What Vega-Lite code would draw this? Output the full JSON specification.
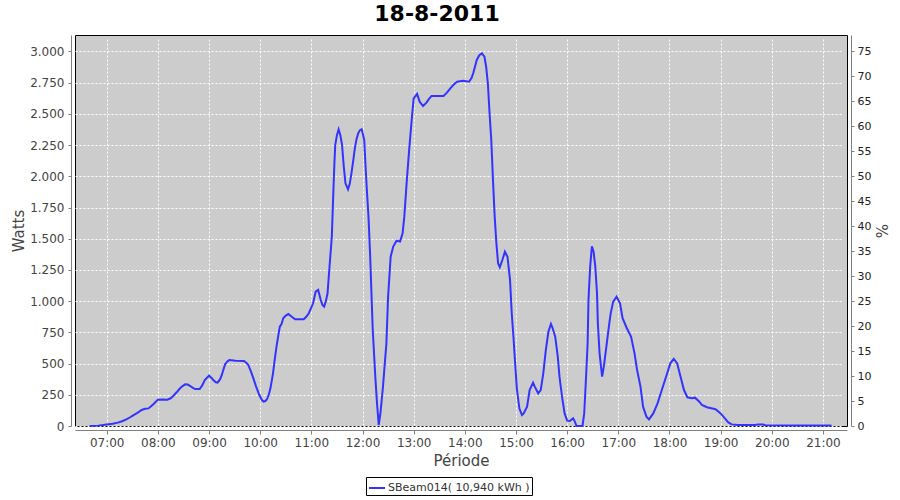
{
  "$schema": "https://vega.github.io/schema/vega-lite/v6.json",
  "autosize": {"type": "none"},
  "padding": {"left": 75, "top": 35, "right": 53, "bottom": 74},
  "width": 772,
  "height": 391,
  "title": {"text": "18-8-2011", "font": "DejaVu Sans", "fontSize": 22, "fontWeight": "bold", "color": "black", "anchor": "middle", "offset": 9, "dx": -24},
  "config": {
    "view": {"fill": "#cccccc", "stroke": "black", "strokeWidth": 1},
    "axis": {
      "labelFont": "DejaVu Sans", "labelFontSize": 12, "labelColor": "#444444",
      "titleFont": "DejaVu Sans", "titleFontSize": 15, "titleFontWeight": "normal", "titleColor": "#444444",
      "domainColor": "#808080", "tickColor": "#808080", "offset": 4,
      "gridColor": "white", "gridDash": [2, 2], "gridOpacity": 1, "gridWidth": 1
    },
    "legend": {"labelFont": "DejaVu Sans", "labelFontSize": 11, "labelColor": "#333333"}
  },
  "data": {"values": [
    {"t": "2011-08-18 06:40", "w": 0},
    {"t": "2011-08-18 06:50", "w": 3},
    {"t": "2011-08-18 07:00", "w": 12},
    {"t": "2011-08-18 07:07", "w": 18},
    {"t": "2011-08-18 07:13", "w": 27},
    {"t": "2011-08-18 07:18", "w": 38},
    {"t": "2011-08-18 07:23", "w": 53},
    {"t": "2011-08-18 07:27", "w": 68},
    {"t": "2011-08-18 07:31", "w": 85},
    {"t": "2011-08-18 07:36", "w": 105},
    {"t": "2011-08-18 07:41", "w": 128},
    {"t": "2011-08-18 07:45", "w": 138},
    {"t": "2011-08-18 07:49", "w": 141},
    {"t": "2011-08-18 07:52", "w": 158},
    {"t": "2011-08-18 07:55", "w": 176},
    {"t": "2011-08-18 08:00", "w": 211},
    {"t": "2011-08-18 08:05", "w": 213},
    {"t": "2011-08-18 08:11", "w": 211},
    {"t": "2011-08-18 08:15", "w": 222},
    {"t": "2011-08-18 08:18", "w": 240},
    {"t": "2011-08-18 08:22", "w": 270},
    {"t": "2011-08-18 08:26", "w": 302},
    {"t": "2011-08-18 08:29", "w": 320},
    {"t": "2011-08-18 08:32", "w": 334},
    {"t": "2011-08-18 08:35", "w": 332},
    {"t": "2011-08-18 08:38", "w": 320},
    {"t": "2011-08-18 08:41", "w": 305},
    {"t": "2011-08-18 08:44", "w": 296},
    {"t": "2011-08-18 08:49", "w": 296},
    {"t": "2011-08-18 08:52", "w": 325},
    {"t": "2011-08-18 08:55", "w": 368},
    {"t": "2011-08-18 09:00", "w": 403},
    {"t": "2011-08-18 09:03", "w": 385},
    {"t": "2011-08-18 09:05", "w": 368},
    {"t": "2011-08-18 09:08", "w": 350},
    {"t": "2011-08-18 09:10", "w": 347},
    {"t": "2011-08-18 09:13", "w": 375},
    {"t": "2011-08-18 09:15", "w": 409},
    {"t": "2011-08-18 09:17", "w": 455},
    {"t": "2011-08-18 09:19", "w": 497},
    {"t": "2011-08-18 09:22", "w": 520},
    {"t": "2011-08-18 09:24", "w": 529},
    {"t": "2011-08-18 09:31", "w": 523},
    {"t": "2011-08-18 09:41", "w": 521},
    {"t": "2011-08-18 09:44", "w": 505},
    {"t": "2011-08-18 09:46", "w": 489},
    {"t": "2011-08-18 09:49", "w": 440},
    {"t": "2011-08-18 09:52", "w": 382},
    {"t": "2011-08-18 09:55", "w": 320},
    {"t": "2011-08-18 09:59", "w": 248},
    {"t": "2011-08-18 10:02", "w": 208},
    {"t": "2011-08-18 10:04", "w": 195},
    {"t": "2011-08-18 10:06", "w": 200},
    {"t": "2011-08-18 10:08", "w": 214},
    {"t": "2011-08-18 10:10", "w": 250},
    {"t": "2011-08-18 10:12", "w": 302},
    {"t": "2011-08-18 10:15", "w": 420},
    {"t": "2011-08-18 10:17", "w": 529},
    {"t": "2011-08-18 10:19", "w": 630},
    {"t": "2011-08-18 10:21", "w": 715},
    {"t": "2011-08-18 10:23", "w": 796},
    {"t": "2011-08-18 10:25", "w": 817},
    {"t": "2011-08-18 10:27", "w": 863},
    {"t": "2011-08-18 10:30", "w": 885},
    {"t": "2011-08-18 10:33", "w": 897},
    {"t": "2011-08-18 10:37", "w": 875},
    {"t": "2011-08-18 10:41", "w": 855},
    {"t": "2011-08-18 10:51", "w": 855},
    {"t": "2011-08-18 10:54", "w": 875},
    {"t": "2011-08-18 10:57", "w": 903},
    {"t": "2011-08-18 11:00", "w": 950},
    {"t": "2011-08-18 11:02", "w": 983},
    {"t": "2011-08-18 11:05", "w": 1076},
    {"t": "2011-08-18 11:08", "w": 1090},
    {"t": "2011-08-18 11:11", "w": 1009},
    {"t": "2011-08-18 11:13", "w": 970},
    {"t": "2011-08-18 11:15", "w": 956},
    {"t": "2011-08-18 11:17", "w": 1000},
    {"t": "2011-08-18 11:19", "w": 1063},
    {"t": "2011-08-18 11:21", "w": 1250},
    {"t": "2011-08-18 11:24", "w": 1517},
    {"t": "2011-08-18 11:26", "w": 1917},
    {"t": "2011-08-18 11:27", "w": 2099},
    {"t": "2011-08-18 11:28", "w": 2251},
    {"t": "2011-08-18 11:30", "w": 2330},
    {"t": "2011-08-18 11:32", "w": 2377},
    {"t": "2011-08-18 11:34", "w": 2330},
    {"t": "2011-08-18 11:36", "w": 2251},
    {"t": "2011-08-18 11:38", "w": 2080},
    {"t": "2011-08-18 11:40", "w": 1944},
    {"t": "2011-08-18 11:43", "w": 1896},
    {"t": "2011-08-18 11:45", "w": 1940},
    {"t": "2011-08-18 11:47", "w": 2024},
    {"t": "2011-08-18 11:49", "w": 2120},
    {"t": "2011-08-18 11:51", "w": 2224},
    {"t": "2011-08-18 11:53", "w": 2300},
    {"t": "2011-08-18 11:55", "w": 2345},
    {"t": "2011-08-18 11:57", "w": 2370},
    {"t": "2011-08-18 11:59", "w": 2377},
    {"t": "2011-08-18 12:00", "w": 2350},
    {"t": "2011-08-18 12:02", "w": 2291},
    {"t": "2011-08-18 12:04", "w": 2024},
    {"t": "2011-08-18 12:05", "w": 1900},
    {"t": "2011-08-18 12:07", "w": 1677},
    {"t": "2011-08-18 12:09", "w": 1356},
    {"t": "2011-08-18 12:12", "w": 769},
    {"t": "2011-08-18 12:15", "w": 395},
    {"t": "2011-08-18 12:17", "w": 182},
    {"t": "2011-08-18 12:19", "w": 8},
    {"t": "2011-08-18 12:21", "w": 102},
    {"t": "2011-08-18 12:24", "w": 315},
    {"t": "2011-08-18 12:28", "w": 662},
    {"t": "2011-08-18 12:30", "w": 1036},
    {"t": "2011-08-18 12:33", "w": 1356},
    {"t": "2011-08-18 12:36", "w": 1437},
    {"t": "2011-08-18 12:40", "w": 1484},
    {"t": "2011-08-18 12:44", "w": 1477},
    {"t": "2011-08-18 12:47", "w": 1544},
    {"t": "2011-08-18 12:49", "w": 1677},
    {"t": "2011-08-18 12:52", "w": 1971},
    {"t": "2011-08-18 12:55", "w": 2238},
    {"t": "2011-08-18 12:58", "w": 2478},
    {"t": "2011-08-18 13:00", "w": 2625},
    {"t": "2011-08-18 13:04", "w": 2660},
    {"t": "2011-08-18 13:07", "w": 2598},
    {"t": "2011-08-18 13:11", "w": 2563},
    {"t": "2011-08-18 13:15", "w": 2590},
    {"t": "2011-08-18 13:18", "w": 2620},
    {"t": "2011-08-18 13:21", "w": 2644},
    {"t": "2011-08-18 13:35", "w": 2644},
    {"t": "2011-08-18 13:39", "w": 2670},
    {"t": "2011-08-18 13:43", "w": 2705},
    {"t": "2011-08-18 13:47", "w": 2735},
    {"t": "2011-08-18 13:51", "w": 2758},
    {"t": "2011-08-18 13:58", "w": 2766},
    {"t": "2011-08-18 14:05", "w": 2758},
    {"t": "2011-08-18 14:08", "w": 2790},
    {"t": "2011-08-18 14:10", "w": 2830},
    {"t": "2011-08-18 14:14", "w": 2932},
    {"t": "2011-08-18 14:17", "w": 2970},
    {"t": "2011-08-18 14:20", "w": 2985},
    {"t": "2011-08-18 14:23", "w": 2958},
    {"t": "2011-08-18 14:25", "w": 2878},
    {"t": "2011-08-18 14:27", "w": 2745},
    {"t": "2011-08-18 14:29", "w": 2505},
    {"t": "2011-08-18 14:31", "w": 2291},
    {"t": "2011-08-18 14:33", "w": 1971},
    {"t": "2011-08-18 14:35", "w": 1677},
    {"t": "2011-08-18 14:37", "w": 1464},
    {"t": "2011-08-18 14:39", "w": 1303},
    {"t": "2011-08-18 14:41", "w": 1271},
    {"t": "2011-08-18 14:44", "w": 1330},
    {"t": "2011-08-18 14:47", "w": 1396},
    {"t": "2011-08-18 14:50", "w": 1356},
    {"t": "2011-08-18 14:53", "w": 1170},
    {"t": "2011-08-18 14:55", "w": 903},
    {"t": "2011-08-18 14:57", "w": 715},
    {"t": "2011-08-18 14:59", "w": 502},
    {"t": "2011-08-18 15:01", "w": 300},
    {"t": "2011-08-18 15:04", "w": 140},
    {"t": "2011-08-18 15:07", "w": 88},
    {"t": "2011-08-18 15:09", "w": 101},
    {"t": "2011-08-18 15:13", "w": 155},
    {"t": "2011-08-18 15:16", "w": 288},
    {"t": "2011-08-18 15:20", "w": 347},
    {"t": "2011-08-18 15:22", "w": 315},
    {"t": "2011-08-18 15:26", "w": 262},
    {"t": "2011-08-18 15:29", "w": 288},
    {"t": "2011-08-18 15:32", "w": 422},
    {"t": "2011-08-18 15:35", "w": 609},
    {"t": "2011-08-18 15:38", "w": 755},
    {"t": "2011-08-18 15:41", "w": 817},
    {"t": "2011-08-18 15:43", "w": 783},
    {"t": "2011-08-18 15:46", "w": 715},
    {"t": "2011-08-18 15:49", "w": 555},
    {"t": "2011-08-18 15:51", "w": 395},
    {"t": "2011-08-18 15:54", "w": 235},
    {"t": "2011-08-18 15:57", "w": 101},
    {"t": "2011-08-18 16:00", "w": 43},
    {"t": "2011-08-18 16:03", "w": 40},
    {"t": "2011-08-18 16:07", "w": 61},
    {"t": "2011-08-18 16:09", "w": 35},
    {"t": "2011-08-18 16:11", "w": 0},
    {"t": "2011-08-18 16:18", "w": 0},
    {"t": "2011-08-18 16:20", "w": 101},
    {"t": "2011-08-18 16:22", "w": 368},
    {"t": "2011-08-18 16:24", "w": 662},
    {"t": "2011-08-18 16:25", "w": 1009},
    {"t": "2011-08-18 16:27", "w": 1276},
    {"t": "2011-08-18 16:29", "w": 1440},
    {"t": "2011-08-18 16:31", "w": 1396},
    {"t": "2011-08-18 16:33", "w": 1276},
    {"t": "2011-08-18 16:35", "w": 1063},
    {"t": "2011-08-18 16:36", "w": 823},
    {"t": "2011-08-18 16:38", "w": 582},
    {"t": "2011-08-18 16:41", "w": 395},
    {"t": "2011-08-18 16:43", "w": 475},
    {"t": "2011-08-18 16:46", "w": 635},
    {"t": "2011-08-18 16:49", "w": 800},
    {"t": "2011-08-18 16:51", "w": 900},
    {"t": "2011-08-18 16:54", "w": 996},
    {"t": "2011-08-18 16:58", "w": 1036},
    {"t": "2011-08-18 17:02", "w": 983},
    {"t": "2011-08-18 17:05", "w": 863},
    {"t": "2011-08-18 17:10", "w": 783},
    {"t": "2011-08-18 17:15", "w": 715},
    {"t": "2011-08-18 17:19", "w": 582},
    {"t": "2011-08-18 17:22", "w": 449},
    {"t": "2011-08-18 17:26", "w": 315},
    {"t": "2011-08-18 17:29", "w": 155},
    {"t": "2011-08-18 17:33", "w": 75},
    {"t": "2011-08-18 17:36", "w": 53},
    {"t": "2011-08-18 17:41", "w": 101},
    {"t": "2011-08-18 17:46", "w": 182},
    {"t": "2011-08-18 17:51", "w": 288},
    {"t": "2011-08-18 17:56", "w": 395},
    {"t": "2011-08-18 18:01", "w": 502},
    {"t": "2011-08-18 18:05", "w": 537},
    {"t": "2011-08-18 18:09", "w": 502},
    {"t": "2011-08-18 18:13", "w": 395},
    {"t": "2011-08-18 18:17", "w": 288},
    {"t": "2011-08-18 18:21", "w": 230},
    {"t": "2011-08-18 18:26", "w": 222},
    {"t": "2011-08-18 18:30", "w": 227},
    {"t": "2011-08-18 18:35", "w": 195},
    {"t": "2011-08-18 18:38", "w": 168},
    {"t": "2011-08-18 18:44", "w": 150},
    {"t": "2011-08-18 18:54", "w": 134},
    {"t": "2011-08-18 19:00", "w": 101},
    {"t": "2011-08-18 19:05", "w": 61},
    {"t": "2011-08-18 19:09", "w": 29},
    {"t": "2011-08-18 19:13", "w": 13},
    {"t": "2011-08-18 19:20", "w": 8},
    {"t": "2011-08-18 19:40", "w": 8},
    {"t": "2011-08-18 19:44", "w": 12},
    {"t": "2011-08-18 19:50", "w": 12},
    {"t": "2011-08-18 19:52", "w": 6},
    {"t": "2011-08-18 20:30", "w": 5},
    {"t": "2011-08-18 21:10", "w": 5}
  ]},
  "encoding": {
    "x": {
      "field": "t", "type": "temporal",
      "scale": {"domain": ["2011-08-18 06:22:48", "2011-08-18 21:28:12"]},
      "axis": {"title": "Période", "format": "%H:%M", "tickCount": 15, "tickSize": 4, "labelPadding": 3, "titlePadding": 5, "grid": true}
    }
  },
  "layer": [
    {
      "mark": {"type": "line", "strokeWidth": 2},
      "encoding": {
        "y": {
          "field": "w", "type": "quantitative",
          "scale": {"domain": [0, 3132], "nice": false},
          "axis": {"title": "Watts", "values": [0, 250, 500, 750, 1000, 1250, 1500, 1750, 2000, 2250, 2500, 2750, 3000], "labelExpr": "datum.value >= 1000 ? floor(datum.value / 1000) + '.' + substring(format(datum.value, '04d'), 1, 4) : datum.label", "tickSize": 3, "labelPadding": 4, "titlePadding": 3, "grid": true}
        },
        "color": {
          "datum": "SBeam014( 10,940 kWh )",
          "type": "nominal",
          "scale": {"range": ["#3333ff"]},
          "legend": {"title": null, "orient": "none", "legendX": 291, "legendY": 442, "strokeColor": "black", "fillColor": "white", "padding": 2, "symbolType": "stroke", "symbolSize": 256, "symbolStrokeWidth": 2, "labelOffset": 2}
        }
      }
    },
    {
      "mark": {"type": "line", "strokeOpacity": 0},
      "encoding": {
        "y": {
          "field": "w", "type": "quantitative",
          "scale": {"domain": [0, 3132], "nice": false},
          "axis": {"title": "%", "orient": "right", "values": [0, 200, 400, 600, 800, 1000, 1200, 1400, 1600, 1800, 2000, 2200, 2400, 2600, 2800, 3000], "labelExpr": "format(datum.value / 40, 'd')", "labelFontSize": 11, "labelColor": "#222222", "tickSize": 3, "labelPadding": 3, "titlePadding": 2, "grid": false}
        }
      }
    }
  ],
  "resolve": {"scale": {"y": "independent"}, "axis": {"y": "independent"}}
}
